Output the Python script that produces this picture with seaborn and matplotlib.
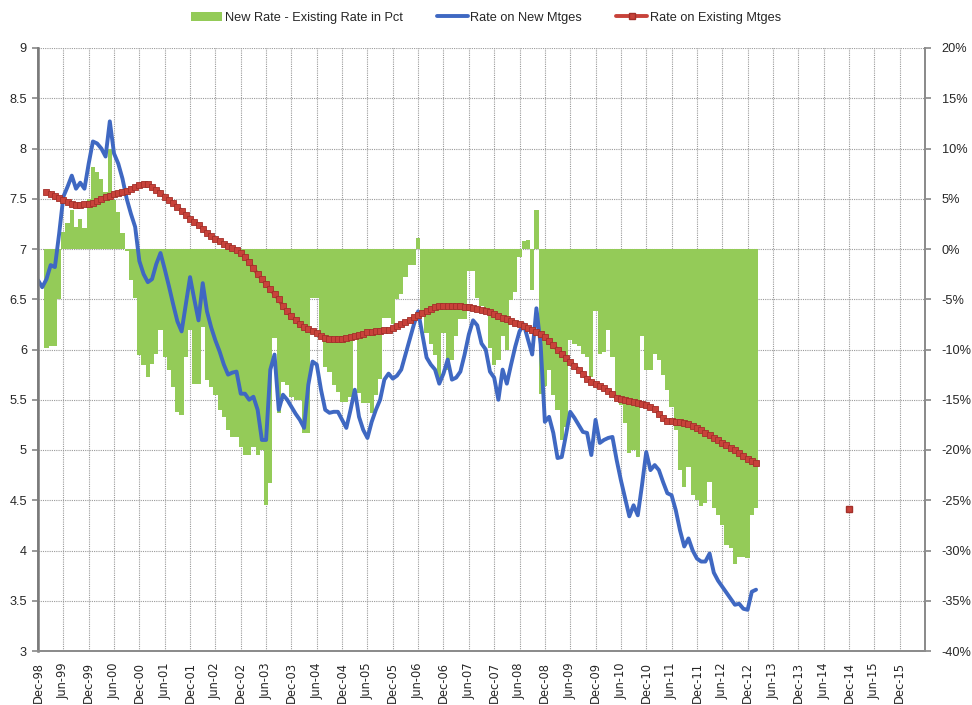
import numpy as np
import pandas as pd
import matplotlib
matplotlib.use("Agg")
import matplotlib.pyplot as plt
from matplotlib.patches import Patch
from matplotlib.lines import Line2D
import seaborn as sns

# ── Data: monthly values, month 0 = Dec-98 ────────────────────
new_rate = [
    6.69, 6.62, 6.70, 6.84, 6.82, 7.15, 7.52, 7.62, 7.73, 7.60,
    7.66, 7.60, 7.85, 8.07, 8.05, 8.00, 7.92, 8.27, 7.95, 7.85,
    7.70, 7.50, 7.35, 7.22, 6.88, 6.75, 6.67, 6.70, 6.85, 6.96,
    6.80, 6.63, 6.45, 6.28, 6.18, 6.45, 6.72, 6.50, 6.29, 6.66,
    6.38, 6.22, 6.09, 5.98, 5.85, 5.75, 5.77, 5.78, 5.56, 5.56,
    5.50, 5.53, 5.40, 5.10, 5.10, 5.80, 5.95, 5.40, 5.55, 5.50,
    5.43, 5.36, 5.30, 5.22, 5.65, 5.88, 5.85, 5.60, 5.40, 5.37,
    5.38, 5.38, 5.30, 5.22, 5.40, 5.60, 5.33, 5.20, 5.12, 5.28,
    5.40, 5.50, 5.70, 5.76, 5.71, 5.74, 5.80, 5.95, 6.10, 6.25,
    6.38, 6.15, 5.92, 5.85, 5.80, 5.66, 5.76, 5.90, 5.70, 5.72,
    5.78, 5.95, 6.15, 6.29, 6.24, 6.06, 6.00, 5.78, 5.72, 5.50,
    5.80, 5.66, 5.85, 6.03, 6.18, 6.25, 6.10, 5.95, 6.41, 6.05,
    5.28, 5.33, 5.17, 4.92, 4.93, 5.15, 5.38, 5.32, 5.25, 5.18,
    5.17, 4.95, 5.30, 5.07, 5.10, 5.12, 5.13, 4.90, 4.70, 4.52,
    4.34, 4.45, 4.35, 4.65, 4.98, 4.80, 4.85, 4.80, 4.68, 4.57,
    4.55, 4.40, 4.20, 4.04, 4.12, 4.00, 3.92, 3.89, 3.89, 3.97,
    3.78, 3.70, 3.64, 3.58, 3.52, 3.46, 3.47, 3.42, 3.41, 3.59,
    3.61,
]

# existing-mortgage rate and the spread start two months later (Feb-99)
existing_rate = [
    7.57, 7.55, 7.53, 7.51, 7.49, 7.47, 7.45, 7.44, 7.44, 7.45,
    7.45, 7.46, 7.48, 7.50, 7.52, 7.53, 7.55, 7.56, 7.57, 7.58,
    7.60, 7.62, 7.64, 7.65, 7.65, 7.62, 7.59, 7.56, 7.52, 7.49,
    7.46, 7.42, 7.38, 7.34, 7.30, 7.27, 7.24, 7.20, 7.16, 7.13,
    7.10, 7.08, 7.05, 7.03, 7.01, 6.99, 6.96, 6.92, 6.87, 6.81,
    6.75, 6.70, 6.65, 6.60, 6.55, 6.50, 6.43, 6.38, 6.33, 6.29,
    6.25, 6.22, 6.20, 6.18, 6.16, 6.13, 6.11, 6.10, 6.10, 6.10,
    6.10, 6.11, 6.12, 6.13, 6.14, 6.15, 6.17, 6.17, 6.18, 6.18,
    6.19, 6.19, 6.21, 6.23, 6.25, 6.27, 6.29, 6.32, 6.34, 6.36,
    6.38, 6.40, 6.42, 6.43, 6.43, 6.43, 6.43, 6.43, 6.43, 6.42,
    6.42, 6.41, 6.40, 6.39, 6.38, 6.37, 6.35, 6.33, 6.31, 6.30,
    6.28, 6.26, 6.25, 6.23, 6.21, 6.19, 6.17, 6.15, 6.12, 6.08,
    6.04, 6.00, 5.96, 5.92, 5.88, 5.84, 5.80, 5.76, 5.71, 5.68,
    5.66, 5.64, 5.62, 5.59, 5.56, 5.52, 5.51, 5.50, 5.49, 5.48,
    5.47, 5.46, 5.45, 5.43, 5.41, 5.36, 5.32, 5.29, 5.29, 5.28,
    5.28, 5.27, 5.26, 5.24, 5.22, 5.20, 5.17, 5.15, 5.12, 5.10,
    5.07, 5.05, 5.02, 5.00, 4.97, 4.94, 4.91, 4.89, 4.87,
]

spread_pct = [
    -9.9, -9.7, -9.7, -5.0, 1.7, 2.6, 3.9, 2.2, 3.0, 2.1,
    5.0, 8.2, 7.7, 7.0, 5.7, 10.0, 4.9, 3.7, 1.6, -0.2,
    -3.1, -4.9, -10.5, -11.5, -12.7, -11.4, -10.4, -8.1, -10.7, -12.0,
    -13.7, -16.2, -16.5, -10.7, -8.1, -13.4, -13.4, -7.8, -13.0, -13.7,
    -14.5, -16.0, -16.7, -18.0, -18.7, -18.7, -19.7, -20.5, -20.5, -19.7,
    -20.5, -20.0, -25.5, -23.3, -8.9, -16.3, -13.2, -13.5, -14.7, -15.0,
    -15.0, -18.3, -18.3, -4.9, -4.9, -8.4, -11.7, -12.2, -13.5, -14.2,
    -15.2, -15.2, -14.7, -9.1, -14.3, -15.3, -15.3, -16.3, -14.5, -12.9,
    -6.9, -6.9, -7.5, -5.0, -4.5, -2.8, -1.6, -1.6, 1.1, -6.5,
    -8.4, -9.5, -10.5, -13.2, -8.4, -12.0, -11.0, -8.7, -7.0, -7.0,
    -2.2, -2.2, -4.9, -5.7, -6.3, -9.9, -11.5, -11.0, -8.7, -10.0,
    -5.1, -4.3, -0.8, 0.8, 0.9, -4.1, 3.9, -14.4, -13.6, -12.0,
    -14.5, -16.0, -19.0, -17.7, -9.1, -9.5, -9.7, -10.4, -10.7, -12.7,
    -6.2, -10.4, -10.2, -8.1, -10.7, -15.0, -15.5, -17.3, -20.3, -20.0,
    -20.7, -8.7, -12.0, -12.0, -10.4, -11.0, -12.5, -14.0, -15.7, -18.0,
    -22.0, -23.7, -21.7, -24.5, -25.0, -25.6, -25.3, -23.2, -25.8, -26.5,
    -27.5, -29.5, -29.8, -31.3, -30.6, -30.6, -30.7, -26.5, -25.8,
]

# lone point of the existing-rate series at Dec-14
stray_month = 192
stray_value = 4.41

tick_labels = [
    "Dec-98", "Jun-99", "Dec-99", "Jun-00", "Dec-00", "Jun-01", "Dec-01",
    "Jun-02", "Dec-02", "Jun-03", "Dec-03", "Jun-04", "Dec-04", "Jun-05",
    "Dec-05", "Jun-06", "Dec-06", "Jun-07", "Dec-07", "Jun-08", "Dec-08",
    "Jun-09", "Dec-09", "Jun-10", "Dec-10", "Jun-11", "Dec-11", "Jun-12",
    "Dec-12", "Jun-13", "Dec-13", "Jun-14", "Dec-14", "Jun-15", "Dec-15",
]

GREEN = "#94CB58"
BLUE = "#3F68C2"
RED = "#C8423A"
GRID = "#9A9A9A"
SPINE = "#8C8C8C"

new_df = pd.DataFrame({"month": np.arange(len(new_rate)), "rate": new_rate})
ex_df = pd.DataFrame({"month": np.arange(len(existing_rate)) + 2, "rate": existing_rate})
spread_months = np.arange(len(spread_pct)) + 2

# ── Style ─────────────────────────────────────────────────────
sns.set_theme(style="white")
plt.rcParams["font.family"] = ["Liberation Sans", "DejaVu Sans"]

fig = plt.figure(figsize=(9.72, 7.05), dpi=100)
ax = fig.add_axes([38 / 972, 1 - 651 / 705, 887 / 972, 603 / 705])
ax2 = ax.twinx()
# rates on top of the spread columns
ax.set_zorder(ax2.get_zorder() + 1)
ax.patch.set_visible(False)

# ── Spread columns (right axis) ───────────────────────────────
ax2.bar(spread_months, spread_pct, width=1.0, color=GREEN, linewidth=0)
ax2.set_ylim(-40, 20)
ax2.set_yticks(np.arange(-40, 21, 5))
ax2.set_yticklabels([f"{v}%" for v in range(-40, 21, 5)], fontsize=9.2)
# grid lives on the lower axes so the columns cover it
ax2.xaxis.set_visible(True)
ax2.tick_params(axis="x", which="both", bottom=False, top=False,
                labelbottom=False, labeltop=False)
ax2.set_axisbelow(True)
ax2.grid(True, which="major", linestyle=(0, (1, 1)), color=GRID, linewidth=0.8)

# ── Rate lines (left axis) ────────────────────────────────────
sns.lineplot(data=new_df, x="month", y="rate", ax=ax, color=BLUE, linewidth=2.8)
sns.lineplot(data=ex_df, x="month", y="rate", ax=ax, color=RED, linewidth=2.8,
             marker="s", markersize=3.8, markeredgecolor="#A3302A", markeredgewidth=0.6)
ax.plot([stray_month], [stray_value], marker="s", markersize=4, color=RED,
        markeredgecolor="#A3302A", linestyle="none")

ax.set_xlim(0, 210)
ax.set_ylim(3, 9)
ax.set_yticks(np.arange(3, 9.01, 0.5))
ax.set_yticklabels([f"{v:g}" for v in np.arange(3, 9.01, 0.5)], fontsize=9.2)
ax.set_xticks(np.arange(0, 6 * len(tick_labels), 6))
ax.set_xticklabels(tick_labels, rotation=90, fontsize=8.3, family="DejaVu Sans")
ax.set_xlabel("")
ax.set_ylabel("")
ax.grid(False)

for a in (ax, ax2):
    a.spines["top"].set_visible(False)
    for s in ("left", "right", "bottom"):
        a.spines[s].set_color(SPINE)
        a.spines[s].set_linewidth(1.4)
ax.spines["left"].set_color("#7A7A7A")
ax.spines["left"].set_linewidth(1.8)
ax.tick_params(axis="y", direction="out", length=4, color=SPINE, pad=4)
ax.tick_params(axis="x", direction="out", length=5, color=SPINE, pad=3)
ax2.tick_params(axis="y", direction="out", length=4, color=SPINE, pad=8)

# ── Legend ────────────────────────────────────────────────────
handles = [
    Patch(facecolor=GREEN, edgecolor="none"),
    Line2D([0], [0], color=BLUE, linewidth=2.8),
    Line2D([0], [0], color=RED, linewidth=2.8, marker="s", markersize=4,
           markeredgecolor="#A3302A"),
]
labels = ["New Rate - Existing Rate in Pct", "Rate on New Mtges", "Rate on Existing Mtges"]
fig.legend(handles, labels, loc="center", bbox_to_anchor=(0.5, 0.975), ncol=3,
           frameon=False, fontsize=9.2, handlelength=2.4, handletextpad=0.2,
           columnspacing=2.7)

fig.savefig("out.png", dpi=100)
